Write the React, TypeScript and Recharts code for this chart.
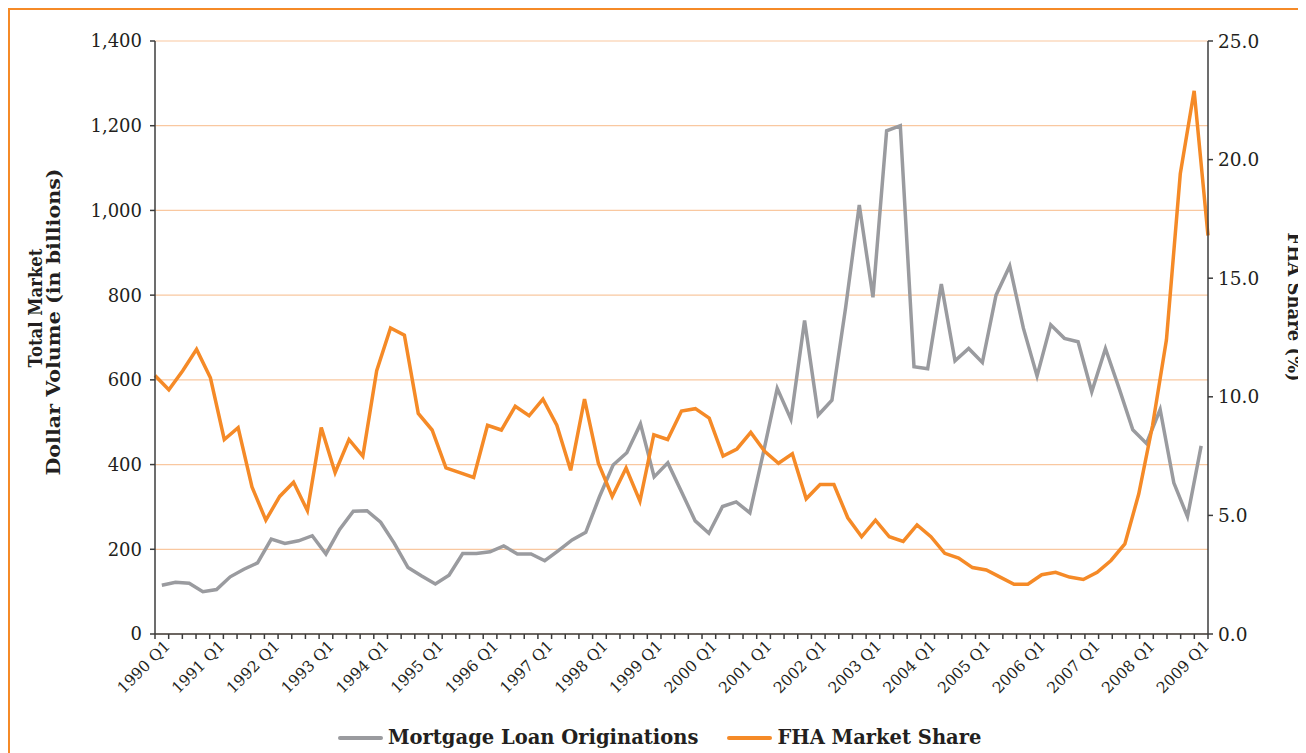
import React from "react";
import { LineChart, Line, XAxis, YAxis, CartesianGrid } from "recharts";

// Quarter categories 1990 Q1 .. 2009 Q1
const years: number[] = [1990, 1991, 1992, 1993, 1994, 1995, 1996, 1997, 1998, 1999, 2000, 2001, 2002, 2003, 2004, 2005, 2006, 2007, 2008, 2009];
const quarterNames: string[] = ["Q1", "Q2", "Q3", "Q4"];
const quarters: string[] = years.flatMap((y) => quarterNames.map((q) => `${y} ${q}`)).slice(0, 77);

// Total market dollar volume (in billions)
const originations: number[] = [
  115, 122, 120, 100, 105, 135, 153, 168, 224, 214, 220, 232, 189, 247, 290, 291,
  264, 214, 157, 137, 118, 139, 190, 190, 194, 208, 189, 189, 173, 197, 222, 240,
  324, 399, 428, 496, 371, 404, 336, 267, 238, 301, 312, 286, 430, 580, 507, 740,
  517, 552, 770, 1013, 795, 1188, 1200, 631, 626, 826, 645, 674, 641, 800, 869, 722,
  609, 730, 698, 690, 572, 674, 580, 482, 450, 530, 357, 277, 444,
];

// FHA market share (%)
const fhaShare: number[] = [
  10.9, 10.3, 11.1, 12.0, 10.8, 8.2, 8.7, 6.2, 4.8, 5.8, 6.4, 5.2, 8.7, 6.8, 8.2, 7.5,
  11.1, 12.9, 12.6, 9.3, 8.6, 7.0, 6.8, 6.6, 8.8, 8.6, 9.6, 9.2, 9.9, 8.8, 6.9, 9.9,
  7.2, 5.8, 7.0, 5.6, 8.4, 8.2, 9.4, 9.5, 9.1, 7.5, 7.8, 8.5, 7.7, 7.2, 7.6, 5.7,
  6.3, 6.3, 4.9, 4.1, 4.8, 4.1, 3.9, 4.6, 4.1, 3.4, 3.2, 2.8, 2.7, 2.4, 2.1, 2.1,
  2.5, 2.6, 2.4, 2.3, 2.6, 3.1, 3.8, 5.9, 8.8, 12.4, 19.4, 22.9, 16.8,
];

const leftTicks: number[] = [0, 200, 400, 600, 800, 1000, 1200, 1400];
const rightTicks: number[] = [0, 5, 10, 15, 20, 25];
const seriesNames: string[] = ["Mortgage Loan Originations", "FHA Market Share"];

const GRAY = "#9a9b9f";
const ORANGE = "#f58a27";
const GRID = "#f9c8a0";
const AXIS = "#3c3c3c";
const TEXT = "#231f20";
const FONT = "'DejaVu Serif', serif";

const data = quarters.map((q, i) => ({
  q,
  xb: i + 0.5,
  xp: i,
  orig: originations[i],
  fha: fhaShare[i],
}));

const boundaryTicks: number[] = Array.from({ length: quarters.length + 1 }, (_, i) => i);

const XTick = (props: any) => {
  const { x, y, payload } = props;
  const v = payload.value as number;
  if (v % 4 !== 0 || v >= quarters.length) return <g />;
  const ax = x + 16;
  const ay = y + 6;
  return (
    <text
      x={ax}
      y={ay}
      textAnchor="end"
      fontSize={15.5}
      fill={TEXT}
      fontFamily={FONT}
      transform={`rotate(-45, ${ax}, ${ay})`}
    >
      {quarters[v]}
    </text>
  );
};

const LeftTitle = (props: any) => {
  const vb = props.viewBox || { x: 0, y: 0, width: 0, height: 0 };
  const x1 = vb.x + 32;
  const x2 = vb.x + 50;
  const y1 = 298;
  const y2 = 312;
  return (
    <g fontFamily={FONT} fontWeight="bold" fontSize={19} fill={TEXT}>
      <text
        x={x1}
        y={y1}
        textAnchor="middle"
        textLength={119}
        lengthAdjust="spacingAndGlyphs"
        transform={`rotate(-90, ${x1}, ${y1})`}
      >
        Total Market
      </text>
      <text
        x={x2}
        y={y2}
        textAnchor="middle"
        textLength={307}
        lengthAdjust="spacingAndGlyphs"
        transform={`rotate(-90, ${x2}, ${y2})`}
      >
        Dollar Volume (in billions)
      </text>
    </g>
  );
};

const RightTitle = (props: any) => {
  const vb = props.viewBox || { x: 0, y: 0, width: 0, height: 0 };
  const x = vb.x + 80;
  const y = 297;
  return (
    <text
      x={x}
      y={y}
      textAnchor="middle"
      fontFamily={FONT}
      fontWeight="bold"
      fontSize={18}
      fill={TEXT}
      transform={`rotate(90, ${x}, ${y})`}
    >
      FHA Share (%)
    </text>
  );
};

export default function App() {
  return (
    <div
      style={{
        position: "relative",
        width: 1296,
        height: 743,
        borderTop: `2px solid ${ORANGE}`,
        borderLeft: `2px solid ${ORANGE}`,
        fontFamily: FONT,
      }}
    >
      <LineChart
        width={1296}
        height={743}
        data={data}
        margin={{ top: 31, right: 0, bottom: 49, left: 0 }}
      >
        <CartesianGrid
          horizontal={true}
          vertical={false}
          stroke={GRID}
          strokeWidth={1.2}
          xAxisId="band"
          yAxisId="left"
        />
        <XAxis
          xAxisId="band"
          type="number"
          dataKey="xb"
          domain={[0, quarters.length]}
          ticks={boundaryTicks}
          interval={0}
          tickSize={5}
          height={70}
          stroke={AXIS}
          strokeWidth={1.5}
          tick={<XTick />}
          allowDecimals={false}
        />
        <XAxis
          xAxisId="pt"
          type="number"
          dataKey="xp"
          domain={[0, quarters.length - 1]}
          hide
        />
        <YAxis
          yAxisId="left"
          orientation="left"
          width={145}
          domain={[0, 1400]}
          ticks={leftTicks}
          interval={0}
          tickSize={5}
          tickMargin={8}
          stroke={AXIS}
          strokeWidth={1.5}
          tick={{ fill: TEXT, fontSize: 18, fontFamily: FONT }}
          tickFormatter={(v: number) => v.toLocaleString("en-US")}
          label={<LeftTitle />}
        />
        <YAxis
          yAxisId="right"
          orientation="right"
          width={98}
          domain={[0, 25]}
          ticks={rightTicks}
          interval={0}
          tickSize={5}
          tickMargin={5}
          stroke={AXIS}
          strokeWidth={1.5}
          tick={{ fill: TEXT, fontSize: 18.5, fontFamily: FONT }}
          tickFormatter={(v: number) => v.toFixed(1)}
          label={<RightTitle />}
        />
        <Line
          xAxisId="band"
          yAxisId="left"
          type="linear"
          dataKey="orig"
          name={seriesNames[0]}
          stroke={GRAY}
          strokeWidth={3.5}
          dot={false}
          isAnimationActive={false}
        />
        <Line
          xAxisId="pt"
          yAxisId="right"
          type="linear"
          dataKey="fha"
          name={seriesNames[1]}
          stroke={ORANGE}
          strokeWidth={3.5}
          dot={false}
          isAnimationActive={false}
        />
      </LineChart>
      <div
        style={{
          position: "absolute",
          left: 328,
          top: 716,
          display: "flex",
          alignItems: "center",
          fontFamily: FONT,
          fontWeight: "bold",
          fontSize: 19.5,
          color: TEXT,
          whiteSpace: "nowrap",
        }}
      >
        {seriesNames.map((name, i) => (
          <div key={name} style={{ display: "flex", alignItems: "center", marginRight: i === 0 ? 29 : 0 }}>
            <span
              style={{
                display: "inline-block",
                width: 45,
                height: 4,
                borderRadius: 2,
                background: i === 0 ? GRAY : ORANGE,
                marginRight: 5,
              }}
            />
            <span>{name}</span>
          </div>
        ))}
      </div>
    </div>
  );
}
